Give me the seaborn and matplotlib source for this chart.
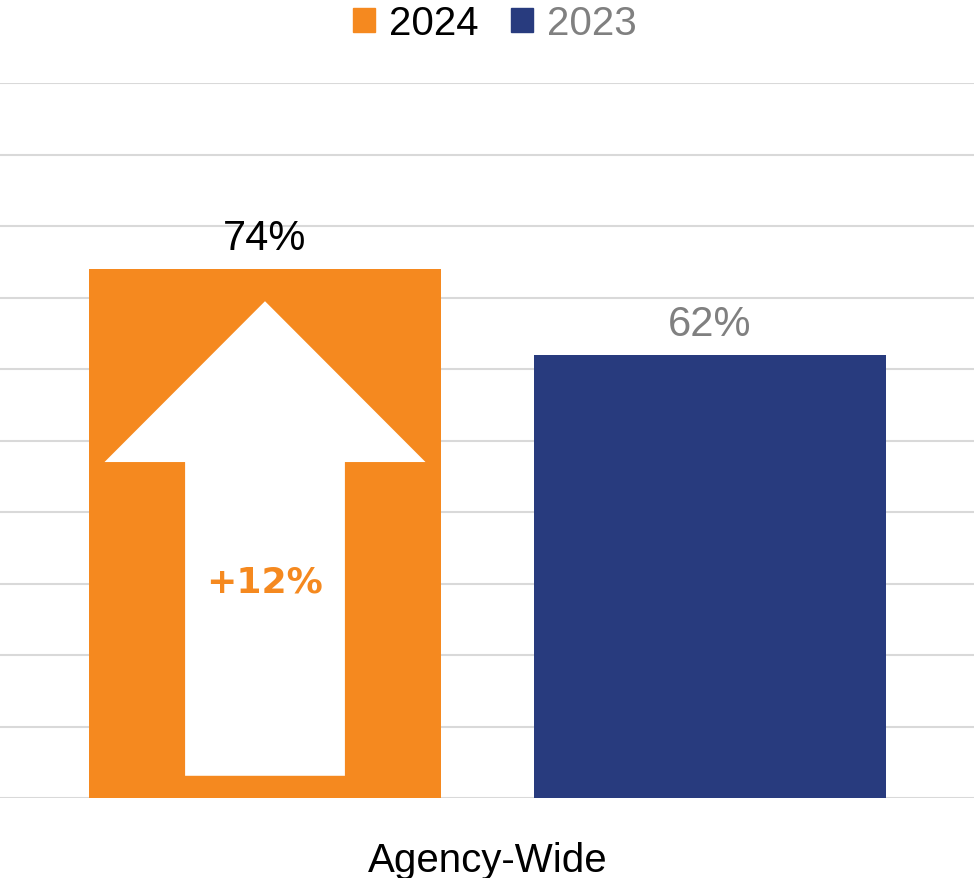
import matplotlib
matplotlib.use("Agg")
import matplotlib.pyplot as plt
from matplotlib.patches import Polygon
import seaborn as sns
import pandas as pd

# Values
group = ["Agency-Wide", "Agency-Wide"]
years = ["2024", "2023"]
scores = [74, 62]
change_label = "+12%"

bar_colors = ["#F5891F", "#283B7E"]
label_colors = ["#000000", "#808080"]

df = pd.DataFrame({"group": group, "year": years, "score": scores})

sns.set_theme(style="white")
plt.rcParams["font.family"] = ["Liberation Sans", "DejaVu Sans"]

fig = plt.figure(figsize=(9.74, 8.79), dpi=100)
ax = fig.add_axes([0.0, 0.0910, 1.0, 0.8134])

sns.barplot(data=df, x="group", y="score", hue="year", hue_order=years,
            palette=bar_colors, width=0.8, gap=0.209, saturation=1,
            legend=False, ax=ax, edgecolor="none")

ax.set_ylim(0, 100)
ax.set_xlim(-0.4382, 0.4373)
ax.set_yticks(range(0, 101, 10))
ax.yaxis.grid(True, color="#D9D9D9", linewidth=1.5)
ax.set_axisbelow(True)
ax.tick_params(axis="y", left=False, labelleft=False)
ax.tick_params(axis="x", bottom=False, labelsize=29, pad=25, colors="black")
ax.set_xlabel("")
ax.set_ylabel("")
for s in ax.spines.values():
    s.set_visible(False)
ax.axhline(0, color="#D0D0D0", linewidth=2, zorder=0.5)

bars = sorted(ax.patches, key=lambda p: p.get_x())
for bar, val, col in zip(bars, scores, label_colors):
    cx = bar.get_x() + bar.get_width() / 2
    ax.annotate(f"{val}%", (cx, bar.get_height()), xytext=(0, 8),
                textcoords="offset points", ha="center", va="bottom",
                fontsize=30, color=col)

# White up-arrow inside the 2024 bar
b = bars[0]
cx = b.get_x() + b.get_width() / 2
w = b.get_width()
h = b.get_height()
head_half = 0.456 * w
shaft_half = 0.227 * w
tip = 0.939 * h
head_base = 0.635 * h
bottom = 0.042 * h
arrow = Polygon([
    (cx, tip), (cx + head_half, head_base), (cx + shaft_half, head_base),
    (cx + shaft_half, bottom), (cx - shaft_half, bottom),
    (cx - shaft_half, head_base), (cx - head_half, head_base)],
    closed=True, facecolor="white", edgecolor="none", zorder=3)
ax.add_patch(arrow)
ax.text(cx, 0.41 * h, change_label, ha="center", va="center",
        fontsize=26, fontweight="bold", color=bar_colors[0],
        family="DejaVu Sans", zorder=4)

# Legend at top
handles = [plt.Rectangle((0, 0), 1, 1, color=c) for c in bar_colors]
leg = fig.legend(handles, years, loc="upper center", bbox_to_anchor=(0.508, 1.035),
                 ncol=2, frameon=False, fontsize=29, handlelength=0.55,
                 handleheight=0.55, handletextpad=0.35, columnspacing=0.8)
for t, c in zip(leg.get_texts(), label_colors):
    t.set_color(c)

fig.savefig("out.png", dpi=100)
